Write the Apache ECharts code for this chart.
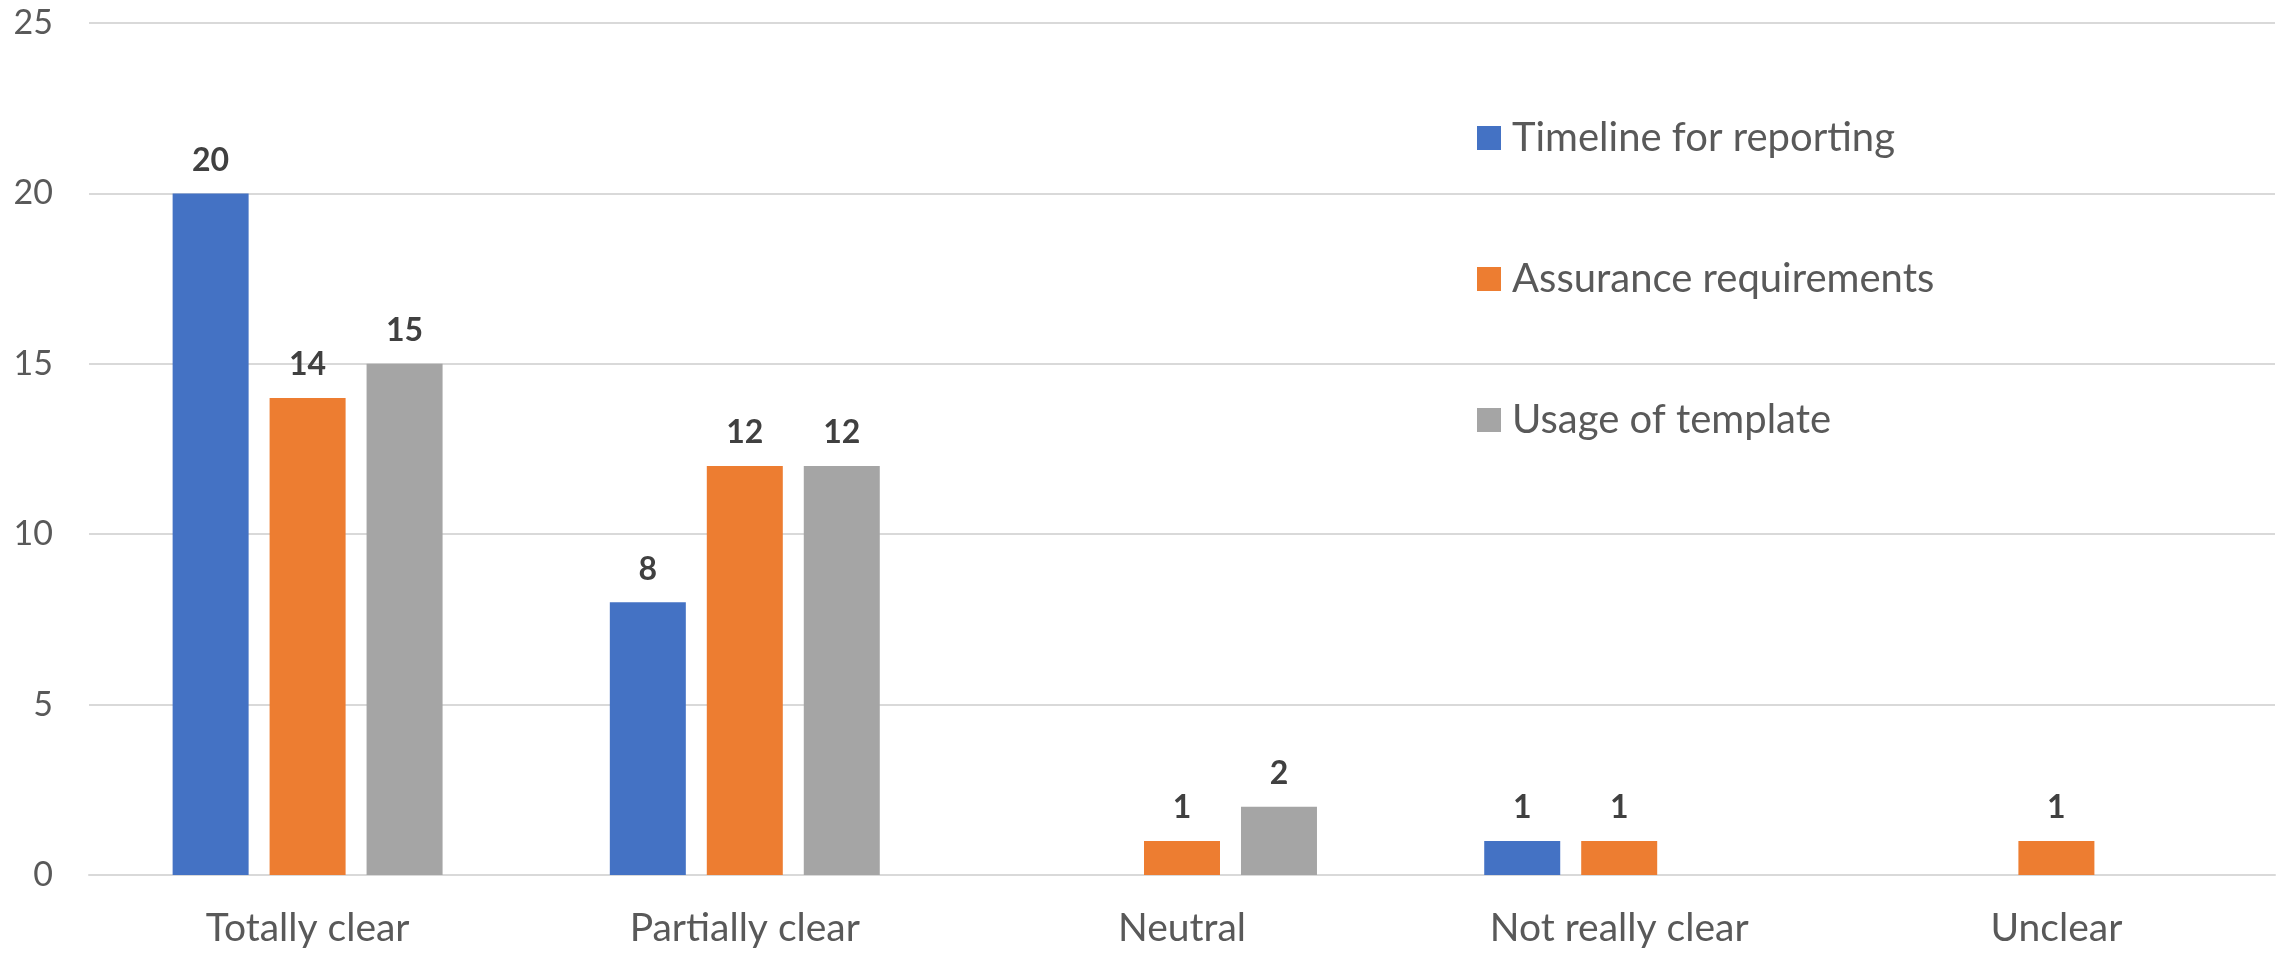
<!DOCTYPE html>
<html style="height:100%;">
<head>
	<meta charset="utf-8" />
	<title>Clarity of requirements</title>
	<script type="text/javascript" src="https://cdn.jsdelivr.net/npm/echarts@6/dist/echarts.min.js"></script>
</head>
<body style="margin:0;padding:0;height:100%;background:#fff;">
	<div id="chart" style="width:2281px;height:953px;"></div>
	<script type="text/javascript">
		// data
		const categories = ["Totally clear", "Partially clear", "Neutral", "Not really clear", "Unclear"];
		const timeline = [20, 8, null, 1, null];
		const assurance = [14, 12, 1, 1, 1];
		const template = [15, 12, 2, null, null];
		const seriesNames = ["Timeline for reporting", "Assurance requirements", "Usage of template"];
		const colors = ["#4472C4", "#ED7D31", "#A5A5A5"];

		const font = "Lato, 'Open Sans', sans-serif";
		const chart = echarts.init(document.getElementById("chart"));

		function bar(name, data, color) {
			return {
				name: name,
				type: "bar",
				data: data,
				barWidth: 76,
				barGap: "27.6%",
				itemStyle: { color: color },
				label: {
					show: true,
					position: "top",
					distance: 17,
					fontFamily: font,
					fontWeight: "bold",
					fontSize: 32,
					color: "#404040"
				}
			};
		}

		chart.setOption({
			animation: false,
			textStyle: { fontFamily: font },
			grid: { left: 89, right: 6, top: 23, bottom: 78, containLabel: false },
			legend: {
				orient: "vertical",
				left: 1472,
				top: 113,
				itemWidth: 24,
				itemHeight: 24,
				itemGap: 101,
				icon: "rect",
				textStyle: { fontSize: 40, color: "#595959", fontFamily: font, padding: [0, 0, 0, 6] },
				data: seriesNames
			},
			xAxis: {
				type: "category",
				data: categories,
				axisLine: { lineStyle: { color: "#D9D9D9", width: 2 } },
				axisTick: { show: false },
				axisLabel: { fontSize: 39, color: "#595959", margin: 34, fontFamily: font }
			},
			yAxis: {
				type: "value",
				min: 0,
				max: 25,
				interval: 5,
				axisLine: { show: false },
				axisTick: { show: false },
				splitLine: { lineStyle: { color: "#D9D9D9", width: 2 } },
				axisLabel: { fontSize: 34, color: "#595959", margin: 36, fontFamily: font }
			},
			series: [
				bar(seriesNames[0], timeline, colors[0]),
				bar(seriesNames[1], assurance, colors[1]),
				bar(seriesNames[2], template, colors[2])
			]
		});
	</script>
</body>
</html>
